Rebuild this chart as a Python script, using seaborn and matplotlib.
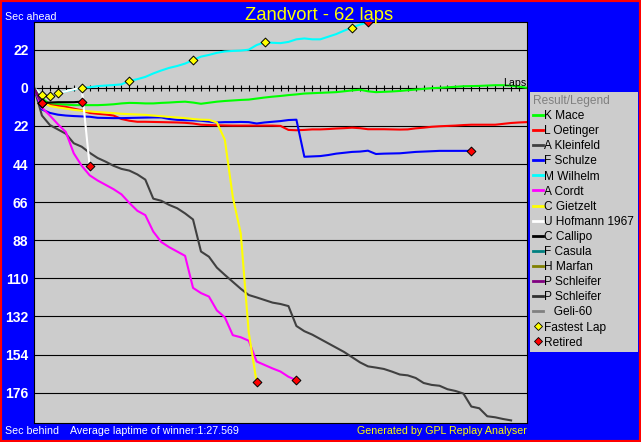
import pandas as pd
import matplotlib
matplotlib.use("Agg")
import matplotlib.pyplot as plt
from matplotlib.lines import Line2D
from matplotlib.patches import Rectangle
import seaborn as sns

# === DONNEES ===
title = "Zandvort - 62 laps"
total_laps = 62
winner_avg = "1:27.569"

# gap to winner's average pace, one value per lap (sec, + = ahead)
mace = [0, -6, -9.5, -9.5, -9.7, -10, -10, -10, -10, -9.8,
        -9.5, -9, -8.7, -8.8, -9, -9, -8.7, -8.5, -8.2, -8,
        -8.5, -9.2, -8.6, -8, -7.6, -7.3, -7, -6.8, -6.2, -5.6,
        -5.1, -4.7, -4.2, -3.8, -3.3, -3.1, -2.9, -2.7, -2.5, -2,
        -1.5, -1.1, -2, -2.5, -2.3, -2.1, -1.8, -1.4, -1, -0.6,
        -0.2, 0, 0.3, 0.6, 0.9, 1, 1.1, 1.3, 1.5, 1.5,
        1.2, 0.7, 0]
oetinger = [0, -8, -10, -10.5, -11, -12, -13, -14.5, -15, -15.4,
            -16, -18, -19, -19.6, -19.6, -19.7, -19.8, -19.9, -20, -20.2,
            -20.6, -21.3, -21.5, -21.6, -21.7, -21.8, -21.8, -21.8, -21.8, -21.8,
            -21.8, -22, -24.3, -24.5, -24.3, -24, -24, -23.8, -23.5, -23.3,
            -23, -23.3, -23.9, -23.9, -23.9, -24, -24.1, -24, -23.4, -23,
            -22.5, -22.2, -22, -21.8, -21.5, -21.3, -21.3, -21.3, -21.3, -20.8,
            -20.3, -20, -19.8]
kleinfeld = [0, -16, -21.5, -24, -26.5, -32, -34, -37.5, -40.5, -42.6,
             -45, -46.8, -47.8, -50, -53, -64, -65.2, -67.6, -69.5, -72.5,
             -76, -94.5, -97.5, -103.8, -108, -112, -116, -119.6, -121, -122.5,
             -124, -124.8, -126, -137.5, -140.5, -142.5, -145, -147.5, -150, -152.5,
             -155.5, -158.5, -160.8, -161.5, -162.3, -163.8, -165.5, -166, -167.5, -170.4,
             -171.5, -172, -174, -175, -176.5, -184, -185, -189.6, -190.2, -191.2,
             -192]
schulze = [0, -12.5, -14.5, -15.5, -16, -16.3, -16.5, -16.7, -17.3, -17.4,
           -17.5, -17.5, -17.4, -17.3, -17.2, -17.1, -17.1, -18, -18.5, -18.7,
           -18.8, -19, -19.5, -20, -19.8, -19.8, -19.7, -19.8, -20.6, -20,
           -19.6, -19.2, -18.6, -18.4, -39.8, -39.6, -39.4, -38.8, -38, -37.5,
           -37, -36.8, -36.3, -38.2, -38, -37.9, -37.8, -37.4, -37, -36.8,
           -36.6, -36.4, -36.4, -36.4, -36.4, -36.4]
wilhelm = [0, -4, -5, -3, -2, -1, 0, 0.3, 1, 1.3,
           1.6, 2, 4, 5, 6.3, 8.3, 10, 11.5, 12.6, 14,
           16, 18, 19, 20.2, 21, 21.3, 21.5, 22, 24.7, 26.3,
           26, 25.8, 26.5, 28, 28.5, 28, 28, 29.5, 31, 33,
           34.8, 36.5, 37.8]
cordt = [0, -11.5, -16, -21, -25.5, -37.8, -45, -50.5, -53.5, -56,
         -58.5, -61.5, -66.5, -71, -73.5, -83, -89, -92, -94.5, -97,
         -115.5, -118.5, -120.5, -128.5, -132.5, -142.8, -144, -146, -158, -160,
         -162, -163.8, -166.8, -168.8]
gietzelt = [0, -8, -10.5, -11.3, -12, -12.7, -13.2, -13.6, -14, -14.3,
            -14.6, -15, -15.2, -15.4, -15.6, -16, -16.4, -16.8, -17.1, -17.5,
            -18, -18.4, -18.5, -20, -30, -63, -84, -141, -170]
hofmann = [0, -4, -5, -3, -2, -0.8, 0, -45]
callipo = [0, -8.8, -8.5, -8.3, -8.3, -8.3, -8]
casula = [0, -9]
marfan = [0, -9]
schleifer_a = [0, -9]
schleifer_b = []
geli = []

labels = ["K Mace", "L Oetinger", "A Kleinfeld", "F Schulze", "M Wilhelm",
          "A Cordt", "C Gietzelt", "U Hofmann 1967", "C Callipo", "F Casula",
          "H Marfan", "P Schleifer", "P Schleifer", "   Geli-60"]
series = [mace, oetinger, kleinfeld, schulze, wilhelm, cordt, gietzelt, hofmann,
          callipo, casula, marfan, schleifer_a, schleifer_b, geli]
colors = ["#00FF00", "#FF0000", "#404040", "#0000FF", "#00FFFF", "#FF00FF",
          "#FFFF00", "#FFFFFF", "#000000", "#008080", "#808000", "#800080",
          "#303030", "#808080"]
retired = [3, 4, 5, 6, 7, 8, 9, 10, 11]  # index in series
fastest_laps = [1, 2, 3, 6, 12, 20, 29, 40]  # on M Wilhelm

yticks = [22, 0, -22, -44, -66, -88, -110, -132, -154, -176]

# === TABLE LONGUE ===
rows = []
for i, s in enumerate(series):
    for lap, g in enumerate(s):
        rows.append({"id": i, "lap": lap, "gap": g})
df = pd.DataFrame(rows)

ret_df = pd.DataFrame([{"lap": len(series[i]) - 1, "gap": series[i][-1]} for i in retired])
fl_df = pd.DataFrame({"lap": fastest_laps, "gap": [wilhelm[l] for l in fastest_laps]})

plt.rcParams["font.family"] = ["Liberation Sans", "DejaVu Sans"]

fig = plt.figure(figsize=(6.41, 4.42), dpi=100, facecolor="#0000FF")
ax = fig.add_axes([34 / 641, 19 / 442, 493 / 641, 401 / 442])
ax.set_facecolor("#CCCCCC")

for t in yticks:
    ax.axhline(t, color="black", lw=0.8, zorder=1)
ax.scatter(range(total_laps), [0] * total_laps, marker="|", s=20,
           color="black", linewidths=0.8, zorder=1)

pal = {i: c for i, c in enumerate(colors)}
sns.lineplot(data=df, x="lap", y="gap", hue="id", palette=pal,
             hue_order=list(range(len(series))), estimator=None, sort=False,
             legend=False, linewidth=1.5, ax=ax, zorder=2)
sns.scatterplot(data=fl_df, x="lap", y="gap", marker="D", color="#FFFF00",
                edgecolor="black", linewidth=0.7, s=20, ax=ax, zorder=4, legend=False)
sns.scatterplot(data=ret_df, x="lap", y="gap", marker="D", color="#FF0000",
                edgecolor="black", linewidth=0.7, s=20, ax=ax, zorder=4, legend=False)

ax.set_xlim(0, total_laps)
ax.set_ylim(-193.5, 38)
ax.set_xticks([])
ax.set_yticks(yticks)
ax.set_yticklabels([str(abs(t)) for t in yticks])
ax.tick_params(axis="y", length=0, pad=4, labelcolor="white", labelsize=10)
for lbl in ax.get_yticklabels():
    lbl.set_fontweight("bold")
ax.set_xlabel("")
ax.set_ylabel("")
for sp in ax.spines.values():
    sp.set_color("black")
    sp.set_linewidth(0.8)

ax.text(total_laps - 0.1, 1.2, "Laps", ha="right", va="baseline",
        fontsize=7.7, color="black")

# === LEGENDE ===
handles = [Line2D([], [], color=c, lw=2) for c in colors]
handles.append(Line2D([], [], ls="none", marker="D", ms=4, color="#FFFF00",
                      markeredgecolor="black", markeredgewidth=0.6))
handles.append(Line2D([], [], ls="none", marker="D", ms=4, color="#FF0000",
                      markeredgecolor="black", markeredgewidth=0.6))
leg_labels = labels + ["Fastest Lap", "Retired"]
leg = ax.legend(handles, leg_labels, title="Result/Legend", loc="upper left",
                bbox_to_anchor=(530 / 641, 0.1, 108 / 641, 1 - 92 / 442 - 0.1),
                bbox_transform=fig.transFigure, mode="expand", borderaxespad=0,
                fontsize=8.6, title_fontsize=8.6, alignment="left",
                frameon=True, fancybox=False, facecolor="#CCCCCC", edgecolor="none",
                framealpha=1, handlelength=0.85, handletextpad=0.1,
                labelspacing=0.26, borderpad=0.25)
leg.get_title().set_color("#808080")

# === TEXTES ===
fig.text(319 / 641, 1 - 20 / 442, title, ha="center", va="baseline",
         fontsize=13.2, color="#FFFF00")
fig.text(5 / 641, 1 - 19.5 / 442, "Sec ahead", ha="left", va="baseline",
         fontsize=7.7, color="white")
fig.text(5 / 641, 1 - 434.5 / 442, "Sec behind", ha="left", va="baseline",
         fontsize=7.7, color="white")
fig.text(70 / 641, 1 - 434.5 / 442, "Average laptime of winner:" + winner_avg,
         ha="left", va="baseline", fontsize=7.7, color="white")
fig.text(527 / 641, 1 - 434.5 / 442, "Generated by GPL Replay Analyser",
         ha="right", va="baseline", fontsize=7.7, color="#FFFF00")

fig.add_artist(Rectangle((0, 0), 1, 1, transform=fig.transFigure, fill=False,
                         edgecolor="#FF0000", linewidth=3, clip_on=False))

plt.savefig("out.png", dpi=100, facecolor=fig.get_facecolor())
plt.close()
